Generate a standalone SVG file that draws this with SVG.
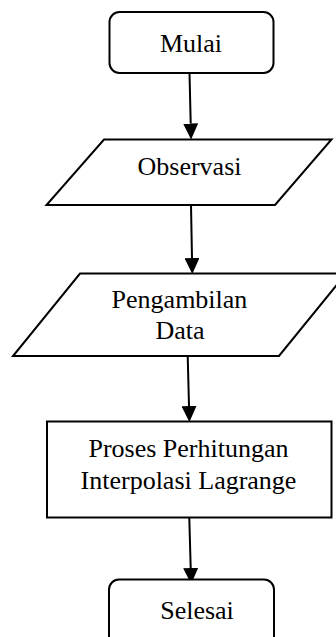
<svg xmlns="http://www.w3.org/2000/svg" width="336" height="637" viewBox="0 0 336 637">
<style>
.shape{fill:#fff;stroke:#000;stroke-width:2}
.lbl{font-family:"Liberation Serif","Times New Roman",serif;font-size:26px;fill:#000;text-anchor:middle}
.conn{stroke:#000;stroke-width:2;fill:none;marker-end:url(#arrow)}
</style>
<defs>
<marker id="arrow" markerUnits="userSpaceOnUse" markerWidth="16" markerHeight="15" viewBox="0 0 16 15" refX="0" refY="7.5" orient="auto">
<path d="M0,0 L16,7.5 L0,15 z" fill="#000"/>
</marker>
</defs>
<rect width="336" height="637" fill="#fff"/>
<g id="connectors">
<line class="conn" x1="189.5" y1="73" x2="190.7" y2="123.5"/>
<line class="conn" x1="191" y1="205" x2="192" y2="258"/>
<line class="conn" x1="187.7" y1="356" x2="189" y2="406"/>
<line class="conn" x1="189.3" y1="518" x2="190.7" y2="568"/>
</g>
<g id="node-mulai">
<rect class="shape" x="109.5" y="12" width="164" height="61" rx="10" ry="10"/>
<text class="lbl" x="191" y="51.5">Mulai</text>
</g>
<g id="node-observasi">
<polygon class="shape" points="104,139.5 331.5,139.5 275,205 46.5,205"/>
<text class="lbl" x="189.5" y="175">Observasi</text>
</g>
<g id="node-pengambilan">
<polygon class="shape" points="80,273.5 346,273.5 279,356 13,356"/>
<text class="lbl" x="179.5" y="308">Pengambilan</text>
<text class="lbl" x="180" y="338.5">Data</text>
</g>
<g id="node-proses">
<rect class="shape" x="47" y="421.5" width="284.5" height="96"/>
<text class="lbl" x="188.5" y="456.5">Proses Perhitungan</text>
<text class="lbl" x="188.5" y="488.5">Interpolasi Lagrange</text>
</g>
<g id="node-selesai">
<rect class="shape" x="109" y="579.5" width="165" height="70" rx="10" ry="10"/>
<text class="lbl" x="197" y="618.5">Selesai</text>
</g>
</svg>
